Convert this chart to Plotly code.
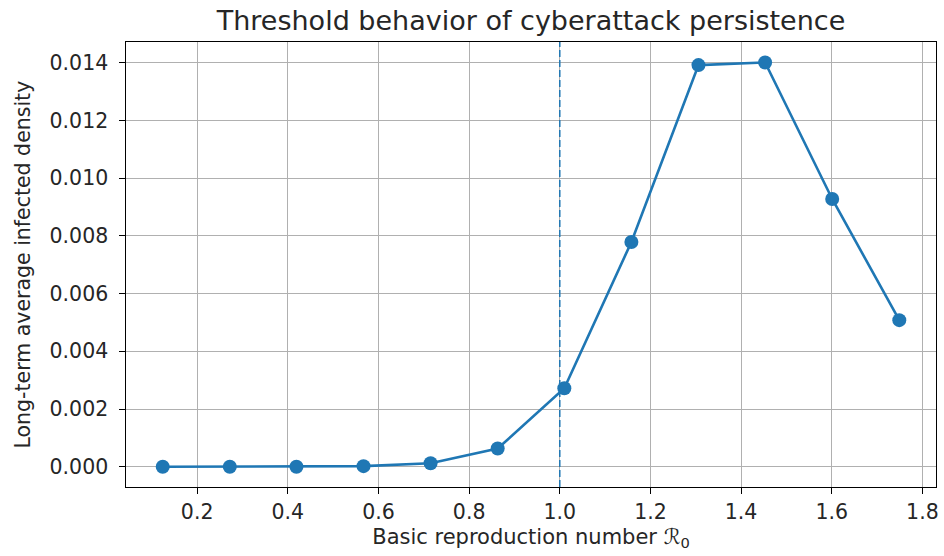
import plotly.graph_objects as go

r0_values = [0.124, 0.272, 0.419, 0.567, 0.715, 0.863, 1.010, 1.158, 1.306, 1.453, 1.601, 1.749]
infected_density = [0.0, 0.0, 0.0, 0.00002, 0.00012, 0.00063, 0.00272, 0.00779, 0.01392, 0.01401, 0.00928, 0.00508]
x_ticks = [0.2, 0.4, 0.6, 0.8, 1.0, 1.2, 1.4, 1.6, 1.8]
y_ticks = [0.0, 0.002, 0.004, 0.006, 0.008, 0.010, 0.012, 0.014]
threshold = 1.0

blue = "#1f77b4"
font = "DejaVu Sans"
txt = "#262626"

fig = go.Figure()
fig.add_trace(go.Scatter(
    x=r0_values, y=infected_density, mode="lines+markers",
    line=dict(color=blue, width=2.6),
    marker=dict(color=blue, size=14),
    showlegend=False,
))

fig.add_shape(type="line", xref="x", yref="paper", x0=threshold, x1=threshold, y0=0, y1=1,
              line=dict(color=blue, width=1.5, dash="7px,3px"), layer="above")

axis_common = dict(
    showline=True, linecolor="black", linewidth=1.3, mirror=True,
    showgrid=True, gridcolor="#b0b0b0", gridwidth=1.3,
    ticks="outside", ticklen=6, tickwidth=1.3, tickcolor="black",
    zeroline=False,
    tickfont=dict(family=font, size=20.5, color=txt),
)

fig.update_layout(
    width=944, height=556,
    margin=dict(l=126, r=5, t=42, b=69),
    paper_bgcolor="white", plot_bgcolor="white",
    font=dict(family=font, color=txt),
    title=dict(text="Threshold behavior of cyberattack persistence",
               font=dict(family=font, size=27, color=txt),
               x=0.5, xref="paper", xanchor="center",
               y=1, yref="paper", yanchor="bottom", pad=dict(b=12)),
    xaxis=dict(axis_common, range=[0.043, 1.830], tickvals=x_ticks,
               ticktext=[f"{v:.1f}" for v in x_ticks],
               title=dict(text="Basic reproduction number <i>ℛ</i><sub>0</sub>",
                          font=dict(family=font, size=21, color=txt), standoff=6)),
    yaxis=dict(axis_common, range=[-0.000703, 0.01472], tickvals=y_ticks,
               ticktext=[f"{v:.3f}\u00a0" for v in y_ticks]),
)

fig.add_annotation(text="Long-term average infected density", textangle=-90,
                   xref="paper", yref="paper", x=0, y=0.5, xshift=-104,
                   xanchor="center", yanchor="middle", showarrow=False,
                   font=dict(family=font, size=20.5, color=txt))

fig.write_html("out.html")
